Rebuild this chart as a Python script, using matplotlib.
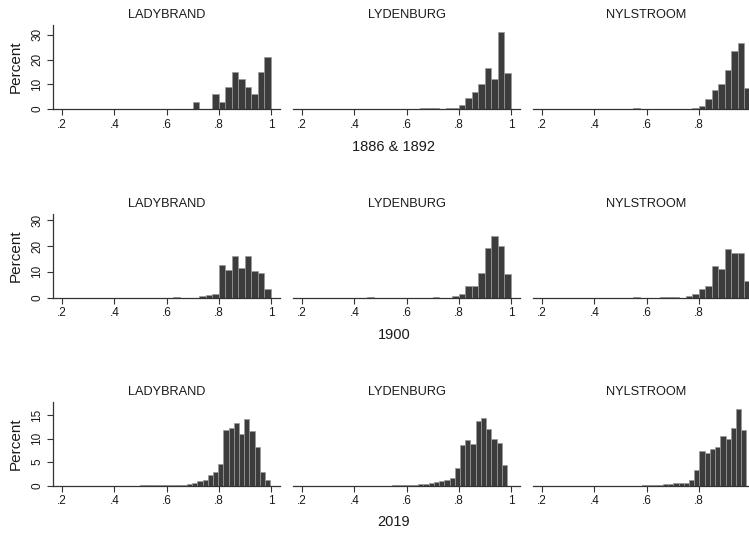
import matplotlib
matplotlib.use("Agg")
import matplotlib.pyplot as plt
import numpy as np

# ---------------- data ----------------
towns = ["LADYBRAND", "LYDENBURG", "NYLSTROOM"]
row_labels = ["1886 & 1892", "1900", "2019"]
bin_widths = [0.025, 0.025, 0.02]

x_ticks = [0.2, 0.4, 0.6, 0.8, 1.0]
x_tick_labels = [".2", ".4", ".6", ".8", "1"]
y_ticks = [[0, 10, 20, 30], [0, 10, 20, 30], [0, 5, 10, 15]]
y_tops = [34.0, 32.7, 17.8]

# 1886 & 1892
lady_1886_start = 0.70
lady_1886 = [3, 0, 0, 6, 3, 9, 15, 12, 9, 6, 15, 21]
lyd_1886_start = 0.65
lyd_1886 = [0.3, 0.3, 0.3, 0, 0.3, 0.5, 1.6, 4.3, 7.0, 10.0, 16.5, 12.0, 31.0, 14.7]
nyl_1886_start = 0.55
nyl_1886 = [0.3, 0, 0, 0, 0, 0, 0, 0, 0, 0.3, 1.3, 4.0, 7.6, 10.0, 15.8, 23.5, 26.6, 8.6]

# 1900
lady_1900_start = 0.625
lady_1900 = [0.3, 0, 0, 0, 0.7, 0.9, 1.5, 12.5, 10.7, 16.3, 11.6, 16.3, 10.3, 9.6, 3.2]
lyd_1900_start = 0.45
lyd_1900 = [0.2, 0, 0, 0, 0, 0, 0, 0, 0, 0, 0.3, 0, 0, 0.6, 1.3, 4.5, 4.5, 9.7,
            19.3, 24.0, 20.2, 9.0]
nyl_1900_start = 0.55
nyl_1900 = [0.2, 0, 0, 0, 0.2, 0.2, 0.3, 0, 0.4, 1.3, 3.2, 4.5, 12.2, 11.2, 18.9,
            17.4, 17.4, 6.4]

# 2019
lady_2019_start = 0.498
lady_2019 = [0.1, 0.1, 0.2, 0.2, 0.1, 0.1, 0.1, 0.1, 0.2, 0.3, 0.5, 1.0, 1.2, 2.3,
             2.8, 4.6, 11.8, 12.2, 13.2, 11.0, 14.1, 11.5, 8.3, 3.0, 1.2]
lyd_2019_start = 0.545
lyd_2019 = [0.1, 0.1, 0.1, 0.2, 0.2, 0.3, 0.4, 0.5, 0.7, 0.9, 1.2, 1.6, 3.8, 8.6,
            9.6, 8.8, 13.8, 14.3, 12.0, 10.0, 9.1, 4.4]
nyl_2019_start = 0.583
nyl_2019 = [0.1, 0.1, 0.2, 0.2, 0.3, 0.4, 0.5, 0.6, 0.6, 1.2, 3.3, 7.4, 7.0, 7.8,
            8.3, 10.6, 10.0, 12.3, 16.2, 11.8]

panels = [
    [(lady_1886_start, lady_1886), (lyd_1886_start, lyd_1886), (nyl_1886_start, nyl_1886)],
    [(lady_1900_start, lady_1900), (lyd_1900_start, lyd_1900), (nyl_1900_start, nyl_1900)],
    [(lady_2019_start, lady_2019), (lyd_2019_start, lyd_2019), (nyl_2019_start, nyl_2019)],
]

# ---------------- layout ----------------
plt.rcParams["font.family"] = ["Liberation Sans", "DejaVu Sans"]
W, H = 749, 536
fig = plt.figure(figsize=(W / 100, H / 100), dpi=100)
fig.patch.set_facecolor("white")

panel_lefts = [53, 293, 533]
panel_w = 227
row_bottoms = [109, 297.5, 485.7]
panel_h = 84
row_label_y = [147, 335, 522]

bar_color = "#3c3c3c"
edge_color = "#9a9a9a"
axis_color = "#333333"
text_color = "#1a1a1a"

for r in range(3):
    for c in range(3):
        left = panel_lefts[c]
        bottom = row_bottoms[r]
        ax = fig.add_axes([left / W, 1 - bottom / H, panel_w / W, panel_h / H])
        start, vals = panels[r][c]
        w = bin_widths[r]
        edges = start + w * np.arange(len(vals))
        ax.bar(edges, vals, width=w, align="edge", color=bar_color,
               edgecolor=edge_color, linewidth=0.5)
        ax.set_xlim(0.165, 1.035)
        ax.set_ylim(0, y_tops[r])
        for s in ["top", "right"]:
            ax.spines[s].set_visible(False)
        ax.spines["bottom"].set_color(axis_color)
        ax.spines["bottom"].set_linewidth(0.9)
        ax.set_xticks(x_ticks)
        ax.set_xticklabels(x_tick_labels, fontsize=8.5, color=text_color)
        ax.tick_params(axis="x", length=4, width=0.8, color=axis_color, pad=3)
        if c == 0:
            ax.spines["left"].set_color(axis_color)
            ax.spines["left"].set_linewidth(0.9)
            ax.set_yticks(y_ticks[r])
            ax.set_yticklabels([str(t) for t in y_ticks[r]], fontsize=8.5,
                               rotation=90, va="center", color=text_color)
            ax.tick_params(axis="y", length=4, width=0.8, color=axis_color, pad=3)
            ax.set_ylabel("Percent", fontsize=11, labelpad=6, color=text_color)
        else:
            ax.spines["left"].set_visible(False)
            ax.set_yticks([])
        ax.set_title(towns[c], fontsize=9.2, pad=5, color=text_color)
    fig.text(394 / W, 1 - row_label_y[r] / H, row_labels[r], ha="center",
             va="center", fontsize=10.5, color=text_color)

fig.savefig("out.png", dpi=100, facecolor="white")
